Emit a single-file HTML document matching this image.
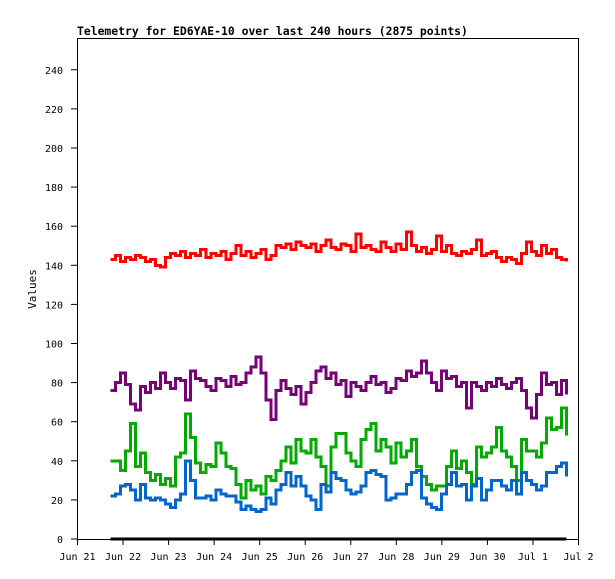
<!DOCTYPE html>
<html><head><meta charset="utf-8"><style>
body{margin:0;background:#fff}
svg{display:block}
text{font-family:"DejaVu Sans Mono","Liberation Mono",monospace;font-size:10px;fill:#000}
</style></head><body>
<svg id="chart" width="615" height="579" xmlns="http://www.w3.org/2000/svg">
<text x="77" y="35" font-weight="bold" style="font-size:11.4px">Telemetry for ED6YAE-10 over last 240 hours (2875 points)</text>
<text transform="translate(36,289) rotate(-90)" text-anchor="middle" style="font-size:11px">Values</text>
<rect x="77.5" y="38.5" width="501" height="501" fill="none" stroke="#000" stroke-width="1"/>
<g id="series"></g><g id="axes"></g>
</svg>
<script>
const yTicks=[0,20,40,60,80,100,120,140,160,180,200,220,240];
const xTickLabels=["Jun 21","Jun 22","Jun 23","Jun 24","Jun 25","Jun 26","Jun 27","Jun 28","Jun 29","Jun 30","Jul 1","Jul 2"];
const tStartDay=0.725, tEndDay=10.74;
const redValues=[143,145,142,144,143,145,144,142,143,140,139,144,146,145,147,144,146,145,148,144,146,145,147,143,146,150,145,147,144,146,148,143,145,150,149,151,148,152,150,149,151,147,150,153,149,148,151,150,147,156,149,150,148,147,152,149,147,151,148,157,150,147,149,146,148,155,147,150,146,145,147,146,148,153,145,146,147,144,142,144,143,141,146,152,147,145,150,146,148,144,143,142];
const purpleValues=[76,80,85,79,69,66,78,75,80,77,85,80,77,82,81,71,86,82,81,78,76,82,81,78,83,79,80,85,88,93,85,71,61,76,81,77,74,78,69,75,80,86,88,82,85,79,81,73,80,78,76,80,83,79,80,75,77,82,81,86,83,85,91,85,80,76,86,82,83,78,80,67,80,78,76,80,78,82,79,77,80,82,76,67,62,74,85,79,80,74,81,74];
const greenValues=[40,40,35,45,59,37,44,34,30,33,28,31,27,42,44,64,52,39,34,38,37,49,44,37,36,28,21,30,25,27,23,32,30,35,40,47,39,51,45,44,51,42,37,27,47,54,54,44,40,37,51,56,59,45,51,47,39,49,42,45,51,37,32,28,25,27,27,37,45,36,40,34,28,47,42,44,47,57,45,42,37,30,51,45,45,42,49,62,56,57,67,53];
const blueValues=[22,23,27,28,25,20,28,21,20,21,20,18,16,20,23,40,30,21,21,22,20,25,23,22,22,19,15,17,15,14,15,21,18,25,28,34,27,32,27,22,20,15,28,24,34,31,30,25,23,24,27,34,35,33,32,20,21,23,23,28,34,35,21,18,16,15,23,28,34,27,28,20,27,31,20,25,30,30,27,25,30,23,34,30,28,25,27,34,34,37,39,32];
const blackValues=[0,0];
const X0=77.5,X1=578.5,Y0=539,YMAX=256;
function xScale(day){return X0+day*(X1-X0)/11;}
function yScale(v){return Y0-v*(Y0-38.5)/YMAX;}
const NS="http://www.w3.org/2000/svg";
const sg=document.getElementById('series'), ag=document.getElementById('axes');
function drawSeries(vals,color,name,w){
  const n=vals.length;let d="";
  vals.forEach((v,i)=>{const t=tStartDay+i*(tEndDay-tStartDay)/(n-1);
    const x=xScale(t).toFixed(1), y=yScale(v).toFixed(1);
    d+= i? ("H"+x+"V"+y) : ("M"+x+","+y);});
  const p=document.createElementNS(NS,'path');
  p.setAttribute('d',d);p.setAttribute('fill','none');p.setAttribute('stroke',color);p.setAttribute('stroke-width',w);
  p.setAttribute('shape-rendering','crispEdges');
  
  
  sg.appendChild(p);
}
drawSeries(blackValues,'#000','series-black',3);
drawSeries(redValues,'#ff0000','series-red',3);
drawSeries(purpleValues,'#770077','series-purple',3);
drawSeries(greenValues,'#00aa00','series-green',3);
drawSeries(blueValues,'#0066cc','series-blue',3);
yTicks.forEach(v=>{
  const y=yScale(v);
  const l=document.createElementNS(NS,'line');
  l.setAttribute('x1',71);l.setAttribute('x2',77.5);l.setAttribute('y1',y);l.setAttribute('y2',y);l.setAttribute('stroke','#000');
  
  
  ag.appendChild(l);
  const t=document.createElementNS(NS,'text');
  t.setAttribute('x',63);t.setAttribute('y',y+4);t.setAttribute('text-anchor','end');t.textContent=v;
  
  
  ag.appendChild(t);
});
xTickLabels.forEach((lab,i)=>{
  const x=xScale(i);
  const l=document.createElementNS(NS,'line');
  l.setAttribute('x1',x);l.setAttribute('x2',x);l.setAttribute('y1',539);l.setAttribute('y2',545);l.setAttribute('stroke','#000');
  
  
  ag.appendChild(l);
  const t=document.createElementNS(NS,'text');
  t.setAttribute('x',x);t.setAttribute('y',560);t.setAttribute('text-anchor','middle');t.textContent=lab;
  
  
  ag.appendChild(t);
});
</script>
</body></html>
